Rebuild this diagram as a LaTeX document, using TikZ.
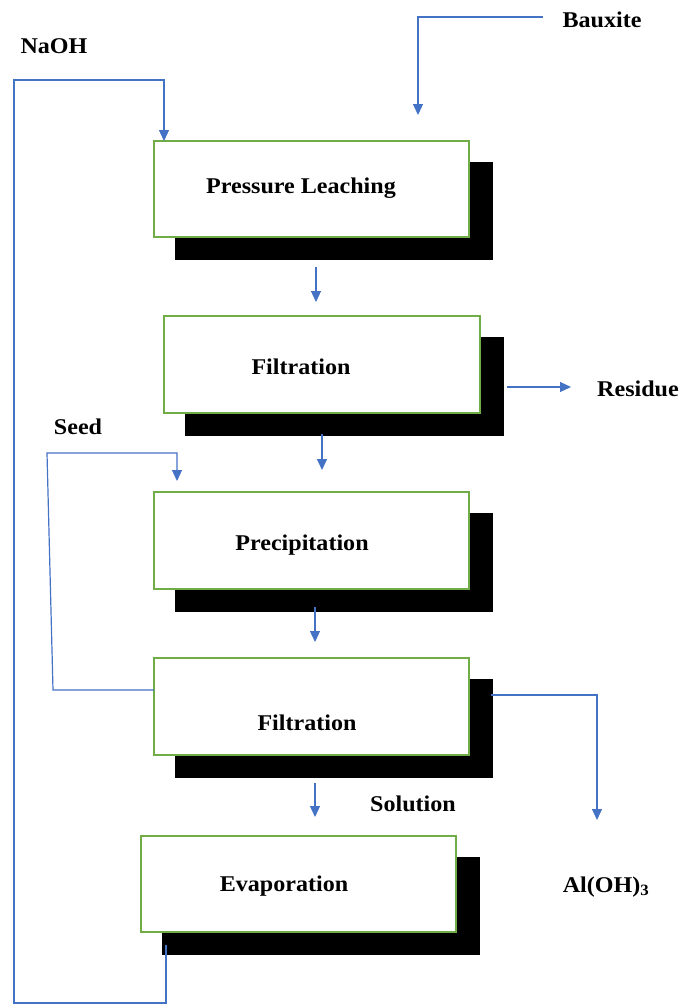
\documentclass[tikz,border=0pt]{standalone}
\usepackage{fontspec}
\setmainfont{Liberation Serif}[FakeStretch=1.07]
\usetikzlibrary{arrows.meta}
\definecolor{flowblue}{RGB}{68,114,196}
\definecolor{boxgreen}{RGB}{112,173,71}
\pgfdeclarelayer{bg}
\pgfsetlayers{bg,main}
\begin{document}
\begin{tikzpicture}[x=1pt,y=-1pt,
  procbox/.style={draw=boxgreen,line width=1.2pt,fill=white,minimum width=315pt,minimum height=96pt,inner sep=0pt},
  boxtext/.style={font=\fontsize{22.5}{26}\selectfont\bfseries,inner sep=0pt,text height=15pt,text depth=0pt},
  lbl/.style={font=\fontsize{22.5}{26}\selectfont\bfseries,inner sep=0pt,text height=15pt,text depth=0pt},
  flow/.style={draw=flowblue,line width=1.2pt},
  arr/.style={flow,-{Triangle[length=11pt,width=10pt]}}]
\useasboundingbox (0,0) rectangle (683,1005);

% boxes
\node[procbox] (b1) at (311.5,189) {};
\node[procbox,minimum width=316pt,minimum height=97pt] (b2) at (322,364.5) {};
\node[procbox,minimum height=97pt] (b3) at (311.5,540.5) {};
\node[procbox,minimum height=97pt] (b4) at (311.5,706.5) {};
\node[procbox] (b5) at (298.5,884) {};

% shadows
\begin{pgfonlayer}{bg}
\foreach \b in {b1,b2,b3,b4,b5}
  \fill[black] ([shift={(22,22)}]\b.north west) rectangle ([shift={(23,22)}]\b.south east);
\end{pgfonlayer}

% box texts
\node[boxtext] (t1) at (301,186) {Pressure Leaching};
\node[boxtext] (t2) at (301,367) {Filtration};
\node[boxtext] (t3) at (302,543) {Precipitation};
\node[boxtext] (t4) at (307,723) {Filtration};
\node[boxtext] (t5) at (284,884) {Evaporation};

% outside labels
\node[lbl] (naoh) at (54,46) {NaOH};
\node[lbl] (baux) at (602,20) {Bauxite};
\node[lbl] (res) at (638,389) {Residue};
\node[lbl] (seed) at (78,427) {Seed};
\node[lbl] (sol) at (413,804) {Solution};
\node[lbl] (aloh) at (606,885) {Al(OH)\textsubscript{3}};

% coordinates
\coordinate (bxs) at (543,17);
\coordinate (bxe) at (418,115);
\coordinate (n0) at (166,945);
\coordinate (n1) at (166,1003);
\coordinate (n2) at (14,1003);
\coordinate (n3) at (14,80);
\coordinate (n4) at (164,80);
\coordinate (n5) at (164,141);
\coordinate (a1s) at (316,267);
\coordinate (a1e) at (316,302);
\coordinate (rs) at (507,387);
\coordinate (re) at (571,387);
\coordinate (a2s) at (322,434);
\coordinate (a2e) at (322,470);
\coordinate (s0) at (154,690);
\coordinate (s1) at (53,690);
\coordinate (s2) at (47,453);
\coordinate (s3) at (177,453);
\coordinate (s4) at (177,481);
\coordinate (a3s) at (315,607);
\coordinate (a3e) at (315,642);
\coordinate (r0) at (491,695);
\coordinate (r1) at (597,695);
\coordinate (r2) at (597,820);
\coordinate (a4s) at (315,783);
\coordinate (a4e) at (315,817);

% connectors
\draw[arr] (bxs) -| (bxe);
\draw[arr] (n0) -- (n1) -- (n2) -- (n3) -- (n4) -- (n5);
\draw[arr] (a1s) -- (a1e);
\draw[arr] (rs) -- (re);
\draw[arr] (a2s) -- (a2e);
\draw[arr] (s0) -- (s1) -- (s2) -- (s3) -- (s4);
\draw[arr] (a3s) -- (a3e);
\draw[arr] (r0) -- (r1) -- (r2);
\draw[arr] (a4s) -- (a4e);
\end{tikzpicture}
\end{document}
